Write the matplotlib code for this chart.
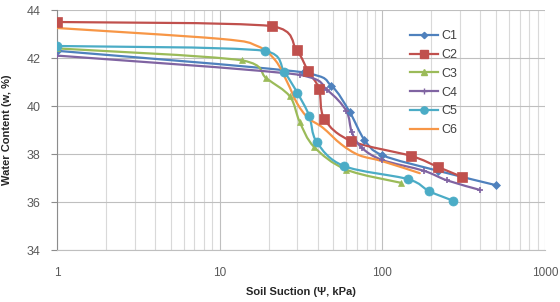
import numpy as np
import matplotlib
matplotlib.use("Agg")
import matplotlib.pyplot as plt
from matplotlib.path import Path
from matplotlib.patches import PathPatch
from matplotlib.lines import Line2D

plt.rcParams['font.family'] = ['Liberation Sans', 'DejaVu Sans']

# ---- data ----
c1_x = [1, 33, 48.5, 63, 77.5, 100, 220, 500]
c1_y = [42.3, 41.4, 40.85, 39.75, 38.6, 37.95, 37.3, 36.7]

c2_x = [1, 21, 29.7, 35, 40.8, 44, 64.5, 150, 220, 310]
c2_y = [43.5, 43.33, 42.33, 41.45, 40.72, 39.46, 38.54, 37.92, 37.46, 37.04]

c3_x = [1, 13.8, 19.4, 27, 31, 38, 60, 130]
c3_y = [42.4, 41.9, 41.15, 40.4, 39.35, 38.3, 37.35, 36.8]

c4_x = [1, 31, 46, 60, 65, 75, 100, 180, 250, 400]
c4_y = [42.1, 41.3, 40.65, 39.8, 38.9, 38.25, 37.75, 37.3, 36.9, 36.5]

c5_x = [1, 19, 25, 30, 35.5, 39.5, 58, 144, 194, 273]
c5_y = [42.5, 42.3, 41.4, 40.55, 39.6, 38.5, 37.5, 36.95, 36.45, 36.05]

c6_x = [1, 10, 17, 22, 26, 30, 35, 43, 56, 72, 100, 170]
c6_y = [43.25, 42.8, 42.5, 41.9, 41.0, 40.1, 39.5, 39.1, 38.4, 37.95, 37.7, 37.2]

names = ['C1', 'C2', 'C3', 'C4', 'C5', 'C6']
xs = [c1_x, c2_x, c3_x, c4_x, c5_x, c6_x]
ys = [c1_y, c2_y, c3_y, c4_y, c5_y, c6_y]
colors = ['#4F81BD', '#C0504D', '#9BBB59', '#8064A2', '#4BACC6', '#F79646']
markers = ['D', 's', '^', '+', 'o', None]
msizes = [4, 6.5, 5, 5, 6.5, 0]

xticks = [1, 10, 100, 1000]
xticklabels = ['1', '10', '100', '1000']
yticks = [34, 36, 38, 40, 42, 44]


def smooth_path(x, y):
    lx = np.log10(np.asarray(x, float))
    yy = np.asarray(y, float)
    P = np.column_stack([lx, yy])
    n = len(P)
    verts = [P[0]]
    codes = [Path.MOVETO]
    for i in range(n - 1):
        p0 = P[i - 1] if i > 0 else P[i]
        p1 = P[i]
        p2 = P[i + 1]
        p3 = P[i + 2] if i + 2 < n else P[i + 1]
        c1 = p1 + (p2 - p0) / 6.0
        c2 = p2 - (p3 - p1) / 6.0
        lo, hi = p1[0], p2[0]
        c1[0] = np.clip(c1[0], lo, hi)
        c2[0] = np.clip(c2[0], lo, hi)
        ylo, yhi = min(p1[1], p2[1]), max(p1[1], p2[1])
        c1[1] = np.clip(c1[1], ylo, yhi)
        c2[1] = np.clip(c2[1], ylo, yhi)
        verts += [c1, c2, p2]
        codes += [Path.CURVE4] * 3
    v = np.array(verts)
    v[:, 0] = 10 ** v[:, 0]
    return Path(v, codes)


fig = plt.figure(figsize=(5.6, 3.02), dpi=100)
ax = fig.add_axes([57 / 560, 1 - 250 / 302, (545 - 57) / 560, 240 / 302])
ax.set_xscale('log')
ax.set_xlim(1, 1000)
ax.set_ylim(34, 44)

ax.grid(True, which='major', axis='both', color='#bfbfbf', lw=0.8)
ax.grid(True, which='minor', axis='x', color='#d9d9d9', lw=0.8)
ax.set_axisbelow(True)

handles = []
for name, x, y, c, m, ms in zip(names, xs, ys, colors, markers, msizes):
    patch = PathPatch(smooth_path(x, y), fill=False, edgecolor=c, lw=1.6,
                      capstyle='round', joinstyle='round', zorder=3)
    ax.add_patch(patch)
    if m is not None:
        ax.plot(x, y, linestyle='none', marker=m, ms=ms, color=c,
                markeredgewidth=1.2 if m == '+' else 0.5, zorder=4)
    handles.append(Line2D([], [], color=c, lw=1.6,
                          marker=m if m else None, ms=ms * 0.8))

ax.set_xticks(xticks)
ax.set_xticklabels(xticklabels)
ax.set_yticks(yticks)
ax.tick_params(axis='x', which='both', length=0, pad=12, labelsize=8.5,
               labelcolor='#595959')
ax.tick_params(axis='y', which='both', length=4, color='#8c8c8c', pad=8,
               labelsize=9, labelcolor='#595959')

for s in ['top', 'right']:
    ax.spines[s].set_visible(False)
ax.spines['left'].set_color('#8c8c8c')
ax.spines['bottom'].set_color('#bfbfbf')

ax.set_xlabel('Soil Suction (Ψ, kPa)', fontsize=8, fontweight='bold',
              color='#262626', labelpad=6)
ax.set_ylabel('Water Content (w, %)', fontsize=8, fontweight='bold',
              color='#262626', labelpad=10)

leg = ax.legend(handles, names, loc='upper left',
                bbox_to_anchor=((405 - 57) / 488, (250 - 25) / 240),
                frameon=False, fontsize=9, handlelength=2.2,
                handletextpad=0.3, labelspacing=0.55, borderaxespad=0)
for t in leg.get_texts():
    t.set_color('#404040')

fig.savefig('out.png', dpi=100)
